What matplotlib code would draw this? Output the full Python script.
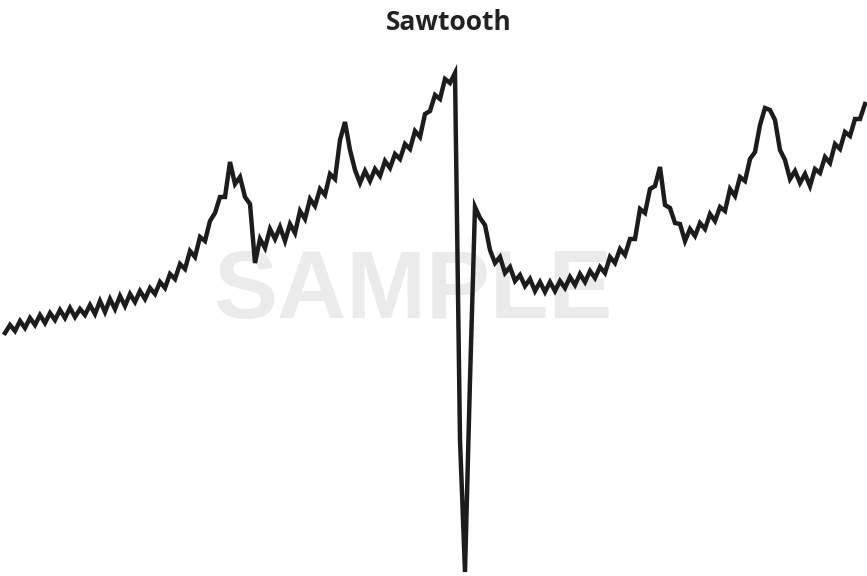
import numpy as np
import matplotlib
matplotlib.use('Agg')
import matplotlib.pyplot as plt

# Sawtooth level, one reading every step.
level = [247, 255, 249, 259, 252, 262, 255, 265, 257, 267, 260, 270, 262, 272, 263, 271,
         265, 275, 266, 279, 268, 281, 271, 284, 274, 286, 278, 289, 281, 292, 286, 298,
         292, 306, 301, 316, 311, 329, 323, 343, 339, 359, 367, 383, 383, 418, 396, 403,
         383, 376, 317, 341, 332, 351, 341, 353, 339, 356, 347, 369, 361, 381, 374, 391,
         385, 406, 401, 440, 458, 430, 410, 397, 409, 399, 411, 404, 419, 412, 426, 421,
         436, 431, 449, 443, 466, 469, 485, 481, 501, 497, 507, 140, 8, 200, 373, 362,
         355, 330, 317, 323, 307, 313, 299, 305, 294, 301, 289, 298, 288, 298, 289, 299,
         292, 303, 295, 306, 298, 309, 302, 313, 307, 323, 317, 331, 325, 341, 341, 371,
         367, 391, 394, 413, 375, 372, 357, 356, 339, 351, 344, 357, 351, 366, 359, 373,
         369, 391, 384, 403, 399, 421, 428, 455, 472, 470, 460, 430, 420, 401, 409, 397,
         406, 394, 411, 407, 423, 417, 436, 431, 448, 444, 461, 461, 476]

x = np.arange(len(level))

fig = plt.figure(figsize=(8.67, 5.76), dpi=100)
ax = fig.add_axes([0, 0, 1, 1])

# watermark behind the line
ax.text(0.476, 0.492, 'SAMPLE', transform=ax.transAxes, ha='center', va='center',
        fontsize=69, fontweight='bold', family='Liberation Sans', color='#ebebeb', zorder=0)

ax.plot(x, level, color='#1c1c1c', linewidth=3.2, solid_joinstyle='miter', zorder=2)

ax.set_xlim(-1, 172.4)
ax.set_ylim(4, 580)
ax.axis('off')

fig.text(0.517, 1 - 23 / 576, 'Sawtooth', ha='center', va='center',
         fontsize=19, fontweight='bold', family='Open Sans', color='#222222')

fig.savefig('out.png', dpi=100, facecolor='white')
